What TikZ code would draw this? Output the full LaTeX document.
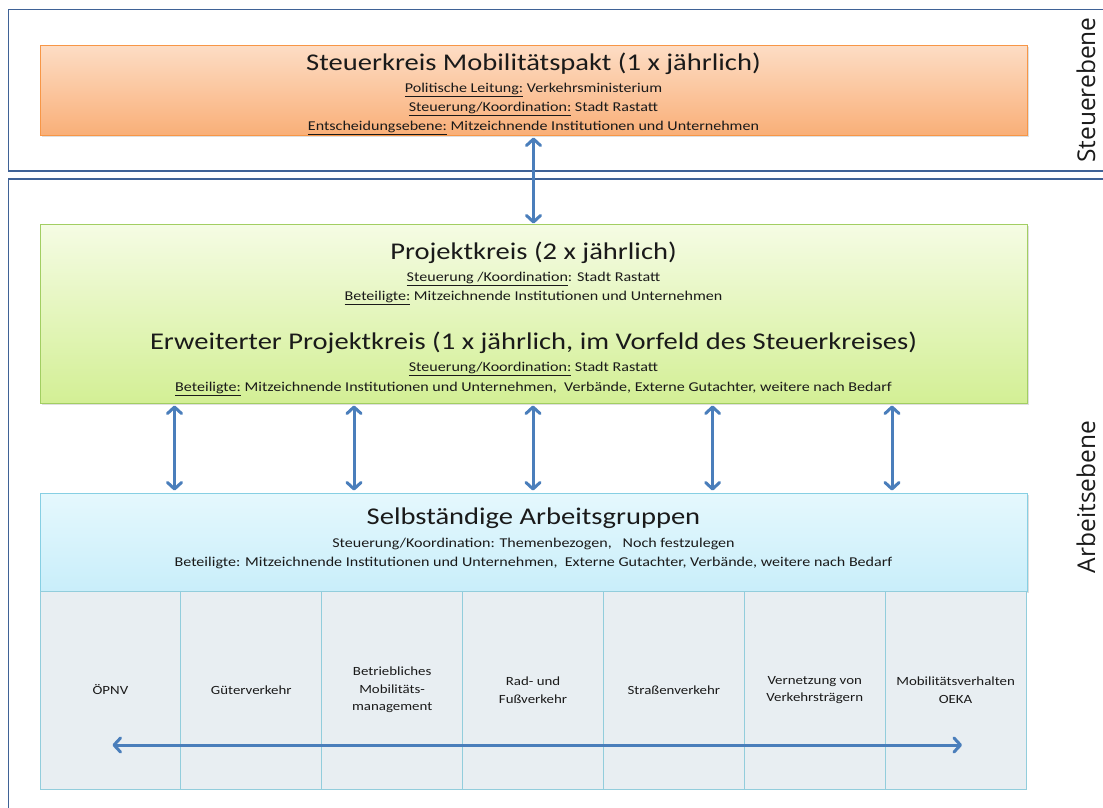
\documentclass[tikz,border=0pt]{standalone}
\usepackage{fontspec}
\setmainfont[FakeStretch=1.19]{Carlito}
\newfontfamily\sidefont{Open Sans}
\usetikzlibrary{arrows.meta,shadows}
\definecolor{framec}{HTML}{3F6296}
\definecolor{orangeT}{HTML}{FDDDC5}
\definecolor{orangeB}{HTML}{F9AF78}
\definecolor{orangeD}{HTML}{F79646}
\definecolor{greenT}{HTML}{F5FCE4}
\definecolor{greenB}{HTML}{D3EF95}
\definecolor{greenD}{HTML}{A2CE62}
\definecolor{blueT}{HTML}{E5F8FD}
\definecolor{blueB}{HTML}{C9EEFA}
\definecolor{blueD}{HTML}{86CFE3}
\definecolor{cellF}{HTML}{E8EEF2}
\definecolor{cellD}{HTML}{92CDDC}
\definecolor{arrc}{HTML}{4A7EBB}
\definecolor{txt}{HTML}{1A1A1A}
\tikzset{
  framebox/.style={draw=framec,line width=1.2pt},
  bigbox/.style={minimum width=987pt,inner sep=0pt,line width=1pt,
    drop shadow={shadow xshift=1.5pt,shadow yshift=-2pt,opacity=0.25}},
  ttl/.style={anchor=base,inner sep=0pt,text=txt,font=\fontsize{24}{28}\selectfont},
  sub/.style={anchor=base,inner sep=0pt,text=txt,font=\fontsize{13.5}{16}\selectfont},
  cell/.style={draw=cellD,fill=cellF,line width=1pt,minimum width=140.86pt,minimum height=198pt,
    inner sep=0pt,align=center,text=txt,font=\fontsize{12.5}{17.5}\selectfont},
  arr/.style={draw=arrc,line width=3pt,line cap=round,line join=round,
    {Straight Barb[length=6.5pt,width=14pt,line cap=round,line join=round]}-{Straight Barb[length=6.5pt,width=14pt,line cap=round,line join=round]}},
  side/.style={rotate=90,inner sep=0pt,text=txt,font=\sidefont\fontsize{24.5}{27}\selectfont}
}
\begin{document}
\begin{tikzpicture}[x=1pt,y=-1pt]
\useasboundingbox (0,0) rectangle (1103,807);
% frames
\draw[framebox] (1104,9.5) -- (8.5,9.5) -- (8.5,171) -- (1104,171);
\draw[framebox] (1104,179) -- (8.5,179) -- (8.5,808);
\node[side] (lsteuer) at (1086,90) {Steuerebene};
\node[side] (larbeit) at (1086,497) {Arbeitsebene};
% orange box
\node[bigbox,draw=orangeD,top color=orangeT,bottom color=orangeB,minimum height=90pt] (steuer) at (533.5,90) {};
\node[ttl] (steuerT) at (533.5,70) {Steuerkreis Mobilitätspakt (1 x jährlich)};
\node[sub] (steuer1) at (533.5,92.5) {\underline{Politische Leitung:} Verkehrsministerium};
\node[sub] (steuer2) at (533.5,111.5) {\underline{Steuerung/Koordination:} Stadt Rastatt};
\node[sub] (steuer3) at (533.5,130.5) {\underline{Entscheidungsebene:} Mitzeichnende Institutionen und Unternehmen};
% green box
\node[bigbox,draw=greenD,top color=greenT,bottom color=greenB,minimum height=179pt] (projekt) at (533.5,313.5) {};
\node[ttl] (projT) at (533.5,259.5) {Projektkreis (2 x jährlich)};
\node[sub] (proj1) at (533.5,281) {\underline{Steuerung /Koordination}: Stadt Rastatt};
\node[sub] (proj2) at (533.5,300) {\underline{Beteiligte:} Mitzeichnende Institutionen und Unternehmen};
\node[ttl] (erwT) at (533.5,349.5) {Erweiterter Projektkreis (1 x jährlich, im Vorfeld des Steuerkreises)};
\node[sub] (erw1) at (533.5,371.5) {\underline{Steuerung/Koordination:} Stadt Rastatt};
\node[sub] (erw2) at (533.5,391) {\underline{Beteiligte:} Mitzeichnende Institutionen und Unternehmen,\ \ Verbände, Externe Gutachter, weitere nach Bedarf};
% blue header
\node[bigbox,draw=blueD,top color=blueT,bottom color=blueB,minimum height=98pt] (arbeit) at (533.5,542) {};
\node[ttl] (arbT) at (533.5,524.5) {Selbständige Arbeitsgruppen};
\node[sub] (arb1) at (533.5,547) {Steuerung/Koordination: Themenbezogen,\ \ \ Noch festzulegen};
\node[sub] (arb2) at (533.5,566) {Beteiligte: Mitzeichnende Institutionen und Unternehmen,\ \ Externe Gutachter, Verbände, weitere nach Bedarf};
% cells
\node[cell] (c1) at (110.43,690) {ÖPNV};
\node[cell] (c2) at (251.29,690) {Güterverkehr};
\node[cell] (c3) at (392.15,690) {Betriebliches\\Mobilitäts-\\management};
\node[cell] (c4) at (533.01,690) {Rad- und\\Fußverkehr};
\node[cell] (c5) at (673.87,690) {Straßenverkehr};
\node[cell] (c6) at (814.73,690) {Vernetzung von\\Verkehrsträgern};
\node[cell] (c7) at (955.59,690) {Mobilitätsverhalten\\OEKA};
% arrows
\draw[arr] ([yshift=-2pt]steuer.south) -- (projekt.north);
\foreach \i/\xx in {1/174.5,2/354,3/533,4/712.6,5/892}{
  \coordinate (ax\i) at (\xx,0);
  \draw[arr] ([yshift=-2pt]projekt.south -| ax\i) -- ([yshift=2pt]arbeit.north -| ax\i);
}
\coordinate (hl) at (112.5,745);
\coordinate (hr) at (962,745);
\draw[arr] (hl) -- (hr);
\end{tikzpicture}
\end{document}
